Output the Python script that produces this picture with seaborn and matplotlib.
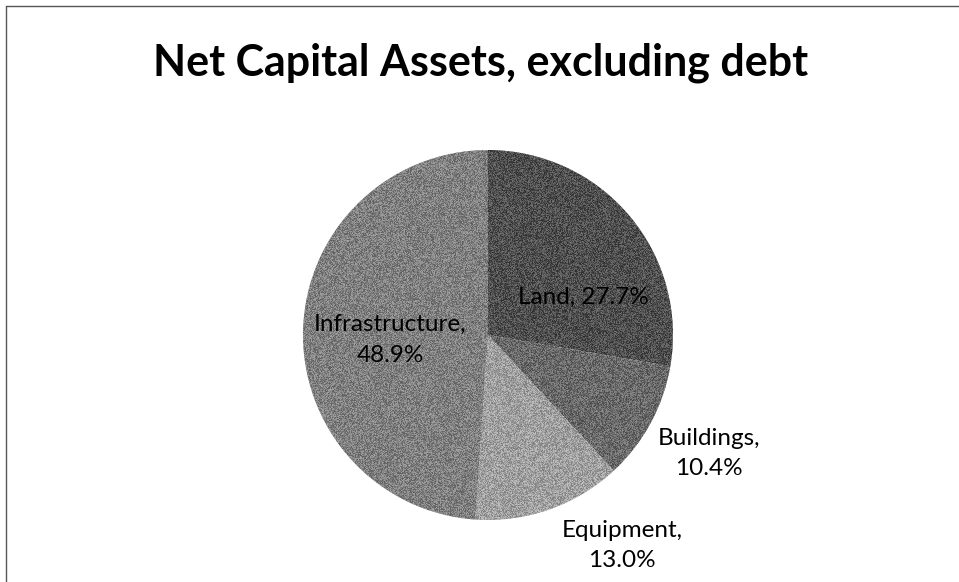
import matplotlib
matplotlib.use("Agg")
import matplotlib.pyplot as plt
import numpy as np
import seaborn as sns
from matplotlib.lines import Line2D
from matplotlib.patches import Circle

# Net capital assets breakdown (percent of total, excluding debt)
categories = ["Land", "Buildings", "Equipment", "Infrastructure"]
shares = [27.7, 10.4, 13.0, 48.9]
slice_colors = ["#3d3d3d", "#616161", "#acacac", "#808080"]

title_text = "Net Capital Assets, excluding debt"

sns.set_theme(style="white")
plt.rcParams["font.family"] = ["Lato", "DejaVu Sans"]

W, H = 959, 582
fig = plt.figure(figsize=(W / 100, H / 100), dpi=100)
fig.patch.set_facecolor("white")

# pie area in pixels: centre (488, 335), radius 185
cx, cy, r = 488, 335, 185
ax = fig.add_axes([(cx - r) / W, (H - cy - r) / H, 2 * r / W, 2 * r / H])
wedges, _ = ax.pie(
    shares,
    colors=slice_colors,
    startangle=90,
    counterclock=False,
    radius=1.0,
    wedgeprops=dict(linewidth=0, antialiased=True),
)
ax.set_xlim(-1, 1)
ax.set_ylim(-1, 1)
ax.axis("off")

# printed halftone grain over the pie
rng = np.random.default_rng(7)
grain = rng.random((2 * r, 2 * r))
img = ax.imshow(grain, cmap="gray", extent=(-1, 1, -1, 1), alpha=0.28,
                interpolation="nearest", zorder=2)
img.set_clip_path(Circle((0, 0), 1.0, transform=ax.transData))

# label placement in pie units (x right, y up from centre)
label_pos = {
    "Land": (0.514, 0.205),
    "Buildings": (1.195, -0.64),
    "Equipment": (0.724, -1.138),
    "Infrastructure": (-0.53, -0.027),
}
single_line = {"Land"}
for cat, val in zip(categories, shares):
    sep = " " if cat in single_line else "\n"
    txt = f"{cat},{sep}{val:.1f}%"
    x, y = label_pos[cat]
    ax.text(x, y, txt, ha="center", va="center", fontsize=17.5,
            color="black", linespacing=1.55, clip_on=False, zorder=3)

fig.text(481 / W, 1 - 63 / H, title_text, ha="center", va="center",
         fontsize=31, fontweight="bold", color="black")

# chart frame (top and left edges visible)
fig.add_artist(Line2D([6 / W, 1.0], [1 - 6 / H, 1 - 6 / H], transform=fig.transFigure,
                      color="#555555", linewidth=1.0))
fig.add_artist(Line2D([6 / W, 6 / W], [0.0, 1 - 6 / H], transform=fig.transFigure,
                      color="#555555", linewidth=1.0))

fig.savefig("out.png", dpi=100, facecolor="white")
